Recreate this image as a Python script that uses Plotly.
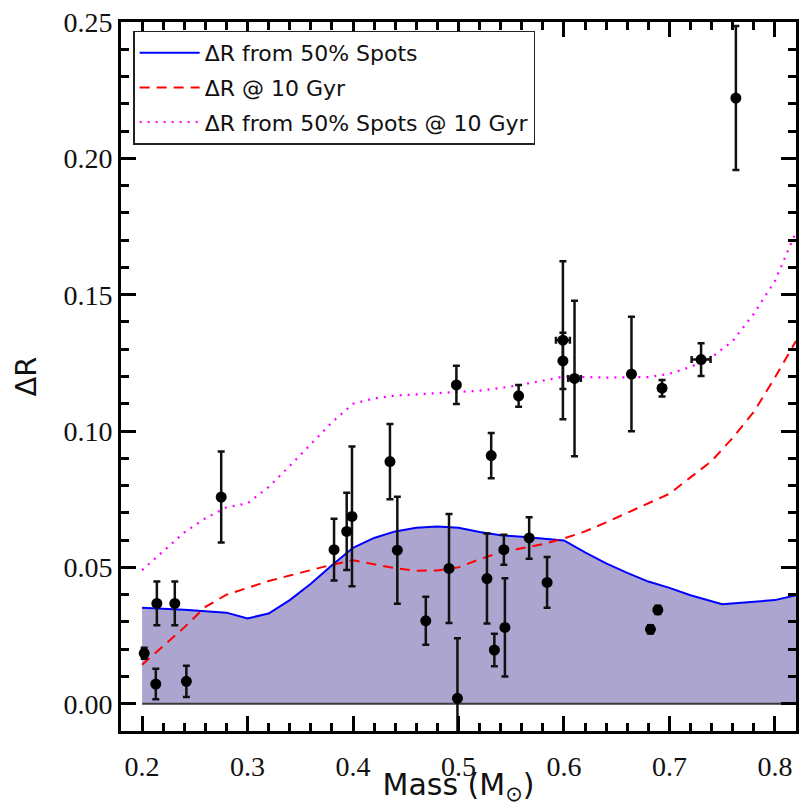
import plotly.graph_objects as go

# Observed radius inflation of low-mass stars
mass = [0.202, 0.214, 0.213, 0.231, 0.242, 0.275, 0.382, 0.394, 0.399, 0.435,
        0.442, 0.469, 0.491, 0.498, 0.499, 0.527, 0.531, 0.534, 0.543, 0.544,
        0.557, 0.567, 0.584, 0.599, 0.599, 0.610, 0.664, 0.682, 0.689, 0.693,
        0.730, 0.763]
mass_err = [0, 0, 0, 0, 0, 0, 0, 0, 0, 0,
            0, 0, 0, 0, 0, 0, 0, 0, 0, 0,
            0, 0, 0, 0.0066, 0, 0.006, 0, 0, 0, 0.003,
            0.009, 0]
dR = [0.0185, 0.0368, 0.0072, 0.0368, 0.0082, 0.0758, 0.0565, 0.0632, 0.0687, 0.0888,
      0.0563, 0.0304, 0.0496, 0.1169, 0.0020, 0.0459, 0.0910, 0.0197, 0.0565, 0.0280,
      0.1129, 0.0608, 0.0445, 0.1333, 0.1257, 0.1193, 0.1209, 0.0273, 0.0344, 0.1157,
      0.1262, 0.2221]
dR_err = [0.002, 0.008, 0.0056, 0.008, 0.0057, 0.0167, 0.0113, 0.0142, 0.0256, 0.0138,
          0.0196, 0.0088, 0.020, 0.007, 0.022, 0.0165, 0.0083, 0.006, 0.0055, 0.018,
          0.004, 0.0076, 0.0093, 0.029, 0.0103, 0.0285, 0.021, 0.0015, 0.0015, 0.003,
          0.006, 0.0264]

# Model: 50% spot coverage
spot_mass = [0.20, 0.24, 0.28, 0.30, 0.32, 0.34, 0.36, 0.38, 0.40, 0.42, 0.44, 0.46,
             0.48, 0.50, 0.52, 0.54, 0.56, 0.58, 0.60, 0.62, 0.64, 0.66, 0.68, 0.70,
             0.72, 0.75, 0.80, 0.82]
spot_dR = [0.0352, 0.0345, 0.0334, 0.0313, 0.0331, 0.0380, 0.0440, 0.0508, 0.0572,
           0.0608, 0.0632, 0.0645, 0.0650, 0.0645, 0.0630, 0.0618, 0.0612, 0.0606,
           0.0599, 0.0555, 0.0515, 0.0480, 0.0448, 0.0425, 0.0398, 0.0365, 0.0380,
           0.0398]

# Model: age of 10 Gyr
age_mass = [0.20, 0.22, 0.24, 0.26, 0.28, 0.30, 0.32, 0.34, 0.36, 0.38, 0.40, 0.42,
            0.44, 0.46, 0.48, 0.50, 0.52, 0.54, 0.56, 0.58, 0.60, 0.62, 0.64, 0.66,
            0.68, 0.70, 0.72, 0.74, 0.76, 0.78, 0.80, 0.82]
age_dR = [0.0143, 0.0210, 0.0280, 0.0355, 0.0400, 0.0425, 0.0450, 0.0470, 0.0490,
          0.0510, 0.0526, 0.0512, 0.0497, 0.0488, 0.0489, 0.0500, 0.0530, 0.0555,
          0.0570, 0.0585, 0.0606, 0.0632, 0.0665, 0.0700, 0.0735, 0.0770, 0.0830,
          0.0890, 0.0975, 0.1070, 0.1196, 0.1330]

# Model: 50% spots at 10 Gyr
both_mass = [0.20, 0.22, 0.24, 0.26, 0.28, 0.30, 0.32, 0.34, 0.36, 0.38, 0.40, 0.42,
             0.44, 0.46, 0.48, 0.50, 0.52, 0.54, 0.56, 0.58, 0.60, 0.64, 0.68, 0.70,
             0.72, 0.74, 0.76, 0.78, 0.80, 0.82]
both_dR = [0.0490, 0.0560, 0.0628, 0.0680, 0.0720, 0.0735, 0.0795, 0.0872, 0.0952,
           0.1032, 0.1100, 0.1120, 0.1130, 0.1134, 0.1138, 0.1142, 0.1148, 0.1158,
           0.1170, 0.1185, 0.1200, 0.1196, 0.1198, 0.1210, 0.1235, 0.1270, 0.1330,
           0.1430, 0.1550, 0.1730]

x_ticks = [0.2, 0.3, 0.4, 0.5, 0.6, 0.7, 0.8]
y_ticks = [0.00, 0.05, 0.10, 0.15, 0.20, 0.25]

fig = go.Figure()

# shaded region under the spot model
fig.add_trace(go.Scatter(
    x=spot_mass, y=spot_dR, mode="lines", fill="tozeroy",
    fillcolor="#aca5d0", line=dict(width=0), showlegend=False, hoverinfo="skip",
))
fig.add_trace(go.Scatter(
    x=spot_mass, y=spot_dR, mode="lines",
    line=dict(color="#0000ff", width=2),
    name="ΔR from 50% Spots", legendgroup="a",
))
fig.add_trace(go.Scatter(
    x=age_mass, y=age_dR, mode="lines",
    line=dict(color="#ff0000", width=2, dash="10px,7px"),
    name="ΔR @ 10 Gyr", legendgroup="b",
))
fig.add_trace(go.Scatter(
    x=both_mass, y=both_dR, mode="lines",
    line=dict(color="#ff00ff", width=2.2, dash="2px,6px"),
    name="ΔR from 50% Spots @ 10 Gyr", legendgroup="c",
))
# baseline of the shaded region
fig.add_trace(go.Scatter(
    x=[spot_mass[0], spot_mass[-1]], y=[0, 0], mode="lines",
    line=dict(color="#3a3a3a", width=1.8), showlegend=False, hoverinfo="skip",
))
fig.add_trace(go.Scatter(
    x=mass, y=dR, mode="markers",
    marker=dict(color="black", size=11),
    error_y=dict(type="data", array=dR_err, color="#111111", thickness=2.5, width=3.5),
    error_x=dict(type="data", array=mass_err, color="#111111", thickness=2.5, width=3.5),
    showlegend=False,
))

axis_common = dict(
    showline=True, linewidth=3, linecolor="black", mirror="allticks",
    ticks="inside", ticklen=15, tickwidth=3, tickcolor="black",
    showgrid=False, zeroline=False, automargin=False,
    tickfont=dict(family="Liberation Serif", size=28, color="#111111"),
)

fig.update_xaxes(
    range=[0.18, 0.82], tickvals=x_ticks, ticktext=[f"{v:.1f}" for v in x_ticks],
    minor=dict(ticks="inside", ticklen=8, tickwidth=2.5, tickcolor="black",
               dtick=0.02, tick0=0, showgrid=False),
    ticklabelstandoff=8,
    title=dict(text="Mass (M<sub>⊙</sub>)", standoff=4,
               font=dict(family="DejaVu Sans", size=30, color="#111111")),
    **axis_common,
)
fig.update_yaxes(
    range=[-0.01, 0.25], tickvals=y_ticks, ticktext=[f"{v:.2f}" for v in y_ticks],
    minor=dict(ticks="inside", ticklen=8, tickwidth=2.5, tickcolor="black",
               dtick=0.01, tick0=0, showgrid=False),
    title=dict(text="ΔR", standoff=19,
               font=dict(family="DejaVu Sans", size=29, color="#111111")),
    **axis_common,
)

fig.update_layout(
    width=799, height=806,
    margin=dict(l=121, r=3, t=22, b=75),
    paper_bgcolor="white", plot_bgcolor="white",
    showlegend=True,
    legend=dict(
        x=0.018, y=0.988, xanchor="left", yanchor="top",
        bgcolor="white", bordercolor="#222222", borderwidth=1.5,
        font=dict(family="DejaVu Sans", size=22, color="#111111"),
        itemwidth=60, tracegroupgap=3,
    ),
)

fig.write_html("out.html")
